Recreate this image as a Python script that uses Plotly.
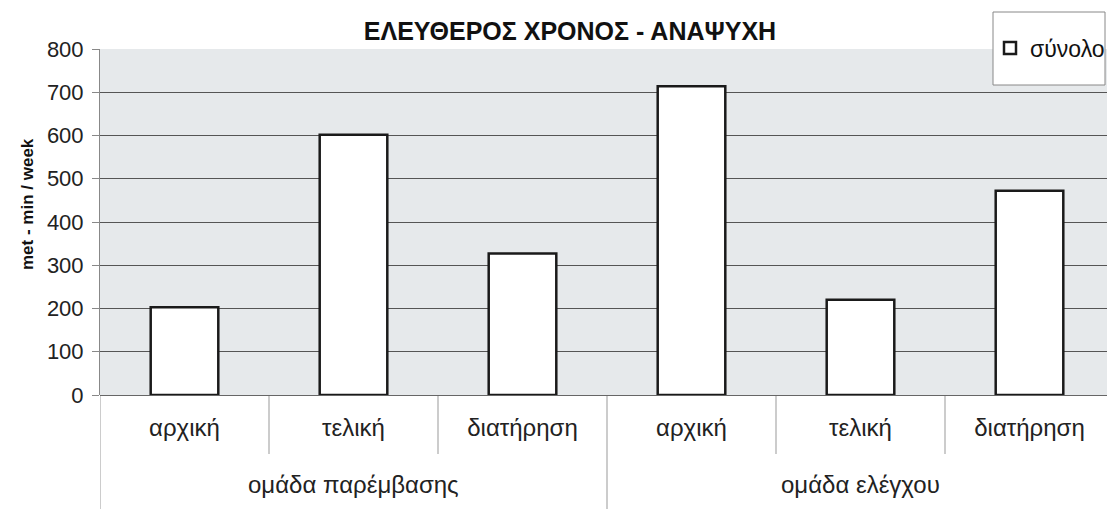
import plotly.graph_objects as go

group_names = ["ομάδα παρέμβασης", "ομάδα ελέγχου"]
phases = ["αρχική", "τελική", "διατήρηση", "αρχική", "τελική", "διατήρηση"]
values = [203, 602, 327, 714, 220, 472]
series_name = "σύνολο"
y_ticks = [0, 100, 200, 300, 400, 500, 600, 700, 800]
y_title = "met - min / week"

positions = list(range(len(phases)))

fig = go.Figure()
fig.add_trace(go.Bar(
    x=positions,
    y=values,
    name=series_name,
    marker=dict(color="white", line=dict(color="#1a1a1a", width=2.5)),
    showlegend=True,
))

OFF = 8  # page body margin
W, H = 1107, 501
ml, mr, mt, mb = 92, 1, 41, 114
pw = W - ml - mr
ph = H - mt - mb

def py(screen_y):
    return (H - mb - (screen_y - OFF)) / ph

def px(screen_x):
    return (screen_x - OFF - ml) / pw

# category dividers (short) and group dividers (long)
for xv in [0.5, 1.5, 3.5, 4.5]:
    fig.add_shape(type="line", xref="x", yref="paper", x0=xv, x1=xv,
                  y0=py(396), y1=py(454), line=dict(color="#999", width=1))
for xv in [-0.5, 2.5]:
    fig.add_shape(type="line", xref="x", yref="paper", x0=xv, x1=xv,
                  y0=py(396), y1=py(512), line=dict(color="#999", width=1))

# group labels
for i, g in enumerate(group_names):
    fig.add_annotation(x=1 + 3 * i, xref="x", y=py(484), yref="paper",
                       text=g, showarrow=False, yanchor="middle",
                       font=dict(size=24, color="#222"))

# y-axis title
fig.add_annotation(x=px(27), xref="paper", y=py(204), yref="paper",
                   text="<b>" + y_title + "</b>", textangle=-90, showarrow=False,
                   xanchor="center", yanchor="middle",
                   font=dict(size=17, color="#111"))

# legend box
fig.add_shape(type="rect", xref="paper", yref="paper",
              x0=px(993), x1=px(1105), y0=py(85), y1=py(12),
              fillcolor="white", line=dict(color="#888", width=1), layer="above")

fig.update_layout(
    width=W, height=H,
    margin=dict(l=ml, r=mr, t=mt, b=mb, autoexpand=False),
    paper_bgcolor="white",
    plot_bgcolor="#e6e9eb",
    font=dict(family="Liberation Sans, Arial, sans-serif", color="#222"),
    title=dict(text="<b>ΕΛΕΥΘΕΡΟΣ ΧΡΟΝΟΣ - ΑΝΑΨΥΧΗ</b>", x=(570 - OFF) / W, xanchor="center",
               y=1 - (31 - OFF) / H, yanchor="middle", font=dict(size=25, color="#111")),
    bargap=0.6,
    showlegend=True,
    legend=dict(
        x=px(1050), xanchor="center",
        y=py(48), yanchor="middle",
        bgcolor="rgba(0,0,0,0)", borderwidth=0,
        font=dict(size=23, color="#111"),
        itemwidth=30,
    ),
    xaxis=dict(
        range=[-0.5, 5.5],
        tickvals=positions, ticktext=phases,
        tickfont=dict(size=24, color="#222"),
        showline=False, showgrid=False, zeroline=False,
        ticks="", ticklabelstandoff=16,
        automargin=False,
    ),
    yaxis=dict(
        range=[0, 800], tickvals=y_ticks,
        tickfont=dict(size=22, color="#222"),
        showgrid=True, gridcolor="#555", gridwidth=1,
        showline=True, linecolor="#888", linewidth=1,
        ticks="outside", ticklen=7, tickcolor="#888",
        ticklabelstandoff=4,
        zeroline=True, zerolinecolor="#666", zerolinewidth=1,
        automargin=False,
    ),
)

fig.write_html("out.html")
